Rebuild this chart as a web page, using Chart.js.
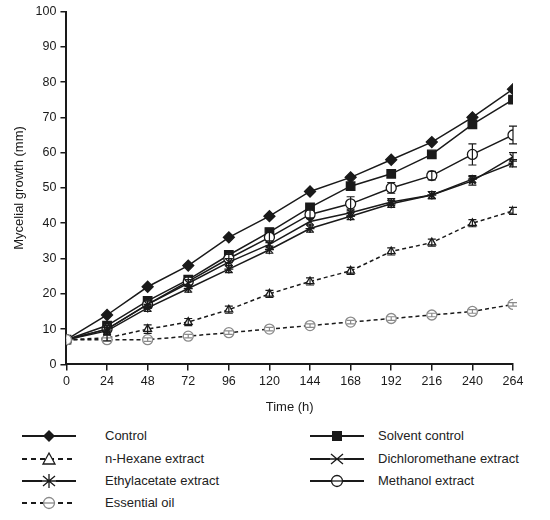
<!DOCTYPE html>
<html lang="en">
<head>
<meta charset="UTF-8">
<title>Mycelial growth</title>
<script src="https://cdn.jsdelivr.net/npm/chart.js"></script>
<style>
  body { margin: 0; background: #fff; font-family: "Liberation Sans", Arial, sans-serif; }
  #wrap { position: relative; width: 550px; height: 520px; }
  #chartBox { position: absolute; left: 0; top: 0; width: 550px; height: 419px; }
  .leg { position: absolute; font-size: 13px; color: #222; }
  .leg canvas { position: absolute; }
</style>
</head>
<body>
<div id="wrap">
  <div id="chartBox"><canvas id="growthChart"></canvas></div>
  <div id="legend"></div>
</div>
<script>
// time points (h)
const hours = [0, 24, 48, 72, 96, 120, 144, 168, 192, 216, 240, 264];

// mean mycelial growth (mm)
const control      = [7, 14, 22, 28, 36, 42, 49, 53, 58, 63, 70, 78];
const solventCtrl  = [7, 11, 18, 24, 31, 37.5, 44.5, 50.5, 54, 59.5, 68, 75];
const hexane       = [7, 7.5, 10, 12, 15.5, 20, 23.5, 26.5, 32, 34.5, 40, 43.5];
const dichloro     = [7, 10, 17, 23, 29, 34, 40.5, 43, 46, 48, 52, 58.8];
const ethylacetate = [7, 9.5, 16, 21.5, 27, 32.5, 38.5, 42, 45.5, 48, 52.5, 57];
const methanol     = [7, 10, 17, 23.5, 30, 36, 42.5, 45.5, 50, 53.5, 59.5, 65];
const essentialOil = [7, 7, 7, 8, 9, 10, 11, 12, 13, 14, 15, 17];

// standard errors
const hexaneErr   = [0, 0.8, 1.2, 1, 1, 1, 1, 1, 1, 1, 1, 1];
const dichloroErr = [0, 1, 1, 1, 1, 1, 1, 1, 1, 1, 1.2, 1.2];
const ethylErr    = [0, 1, 1, 1, 1, 1, 1, 1, 1, 1, 1, 1];
const methanolErr = [0, 1, 1, 1.2, 1.2, 1.5, 1.2, 2, 1.5, 1.2, 3, 2.5];
const oilErr      = [0, 0.5, 0.5, 0.5, 0.5, 0.5, 0.5, 0.5, 0.5, 0.5, 0.5, 0.5];

const yTicks = [0, 10, 20, 30, 40, 50, 60, 70, 80, 90, 100];

const ink = '#1a1a1a';
const grey = '#8a8a8a';

function series(label, values, errs, style) {
  return Object.assign({
    label: label,
    data: values.map((v, i) => ({ x: hours[i], y: v })),
    errs: errs,
    borderColor: ink,
    borderWidth: 1.5,
    pointBorderColor: ink,
    pointBackgroundColor: '#fff',
    pointBorderWidth: 1.3,
    pointRadius: 5,
    tension: 0
  }, style);
}

const datasets = [
  series('Essential oil', essentialOil, oilErr, { borderColor: ink, borderDash: [4, 3], pointStyle: 'circle', pointBorderColor: grey, pointRadius: 5 }),
  series('n-Hexane extract', hexane, hexaneErr, { borderDash: [4, 3], pointStyle: 'triangle', pointRadius: 4.5 }),
  series('Ethylacetate extract', ethylacetate, ethylErr, { pointStyle: 'star', pointRadius: 4.5 }),
  series('Dichloromethane extract', dichloro, dichloroErr, { pointStyle: 'crossRot', pointRadius: 4.5 }),
  series('Methanol extract', methanol, methanolErr, { pointStyle: 'circle', pointRadius: 5 }),
  series('Solvent control', solventCtrl, null, { pointStyle: 'rect', pointBackgroundColor: ink, pointRadius: 6 }),
  series('Control', control, null, { pointStyle: 'rectRot', pointBackgroundColor: ink, pointRadius: 5.5 })
];

// error bars drawn with the chart's own y scale
const errorBars = {
  id: 'errorBars',
  afterDatasetsDraw(chart) {
    const ctx = chart.ctx;
    const yScale = chart.scales.y;
    ctx.save();
    chart.data.datasets.forEach((ds, di) => {
      if (!ds.errs) return;
      const meta = chart.getDatasetMeta(di);
      ctx.strokeStyle = ds.pointBorderColor === grey ? grey : ink;
      ctx.lineWidth = 1.2;
      meta.data.forEach((pt, i) => {
        const e = ds.errs[i];
        if (!e) return;
        const v = ds.data[i].y;
        const top = yScale.getPixelForValue(v + e);
        const bot = yScale.getPixelForValue(v - e);
        ctx.beginPath();
        ctx.moveTo(pt.x, top); ctx.lineTo(pt.x, bot);
        ctx.moveTo(pt.x - 4, top); ctx.lineTo(pt.x + 4, top);
        ctx.moveTo(pt.x - 4, bot); ctx.lineTo(pt.x + 4, bot);
        ctx.stroke();
      });
    });
    ctx.restore();
  }
};

const tickFont = { family: '"Liberation Sans", Arial, sans-serif', size: 12.5 };

new Chart(document.getElementById('growthChart'), {
  type: 'line',
  data: { datasets: datasets },
  options: {
    responsive: true,
    maintainAspectRatio: false,
    animation: false,
    layout: { padding: { left: 8, right: 37, top: 11, bottom: 0 } },
    plugins: { legend: { display: false }, tooltip: { enabled: false } },
    scales: {
      x: {
        type: 'linear',
        min: 0, max: 264,
        ticks: { stepSize: 24, color: ink, font: tickFont, padding: 4 },
        grid: { drawOnChartArea: false, color: ink, tickLength: 6, lineWidth: 1.5 },
        border: { color: ink, width: 2 },
        title: { display: true, text: 'Time (h)', color: ink, font: { family: tickFont.family, size: 13 }, padding: { top: 6 } }
      },
      y: {
        min: 0, max: 100,
        afterBuildTicks: axis => { axis.ticks = yTicks.map(v => ({ value: v })); },
        ticks: { color: ink, font: tickFont, padding: 4 },
        grid: { drawOnChartArea: false, color: ink, tickLength: 6, lineWidth: 1.5 },
        border: { color: ink, width: 2 },
        title: { display: true, text: 'Mycelial growth (mm)', color: ink, font: { family: tickFont.family, size: 13 }, padding: { bottom: 4 } }
      }
    }
  },
  plugins: [errorBars]
});

// legend below the chart: sample line with marker, then label
const legendItems = [
  { label: 'Control', left: 20, top: 428, dash: false, marker: 'diamond' },
  { label: 'n-Hexane extract', left: 20, top: 451, dash: true, marker: 'triangle' },
  { label: 'Ethylacetate extract', left: 20, top: 473, dash: false, marker: 'star' },
  { label: 'Essential oil', left: 20, top: 495, dash: true, marker: 'circleGrey' },
  { label: 'Solvent control', left: 308, top: 428, dash: false, marker: 'square' },
  { label: 'Dichloromethane extract', left: 308, top: 451, dash: false, marker: 'x' },
  { label: 'Methanol extract', left: 308, top: 473, dash: false, marker: 'circle' }
];

const legendBox = document.getElementById('legend');
legendItems.forEach(it => {
  const c = document.createElement('canvas');
  c.width = 58; c.height = 18;
  c.style.left = it.left + 'px';
  c.style.top = (it.top - 1) + 'px';
  c.style.position = 'absolute';
  legendBox.appendChild(c);
  const g = c.getContext('2d');
  g.strokeStyle = ink; g.lineWidth = 2;
  if (it.dash) g.setLineDash([5, 4]);
  g.beginPath(); g.moveTo(2, 9); g.lineTo(56, 9); g.stroke();
  g.setLineDash([]);
  g.lineWidth = 1.3;
  const cx = 29, cy = 9;
  if (it.marker === 'diamond') {
    g.fillStyle = ink; g.beginPath();
    g.moveTo(cx, cy - 6); g.lineTo(cx + 6, cy); g.lineTo(cx, cy + 6); g.lineTo(cx - 6, cy); g.closePath(); g.fill();
  } else if (it.marker === 'square') {
    g.fillStyle = ink; g.fillRect(cx - 5, cy - 5, 10, 10);
  } else if (it.marker === 'triangle') {
    g.fillStyle = '#fff'; g.beginPath();
    g.moveTo(cx, cy - 6); g.lineTo(cx + 6, cy + 5); g.lineTo(cx - 6, cy + 5); g.closePath(); g.fill(); g.stroke();
  } else if (it.marker === 'star' || it.marker === 'x') {
    g.fillStyle = '#fff'; g.fillRect(cx - 7, cy - 7, 14, 14);
    g.beginPath();
    g.moveTo(cx - 6, cy - 5); g.lineTo(cx + 6, cy + 5);
    g.moveTo(cx + 6, cy - 5); g.lineTo(cx - 6, cy + 5);
    if (it.marker === 'star') { g.moveTo(cx, cy - 7); g.lineTo(cx, cy + 7); }
    g.moveTo(2, 9); g.lineTo(56, 9);
    g.stroke();
  } else {
    g.strokeStyle = it.marker === 'circleGrey' ? grey : ink;
    g.fillStyle = '#fff'; g.beginPath(); g.arc(cx, cy, 5.5, 0, Math.PI * 2); g.fill(); g.stroke();
    g.beginPath(); g.moveTo(cx - 5.5, cy); g.lineTo(cx + 5.5, cy); g.stroke();
  }
  const t = document.createElement('div');
  t.className = 'leg';
  t.textContent = it.label;
  t.style.left = (it.left + (it.left > 200 ? 70 : 85)) + 'px';
  t.style.top = it.top + 'px';
  legendBox.appendChild(t);
});
</script>
</body>
</html>
